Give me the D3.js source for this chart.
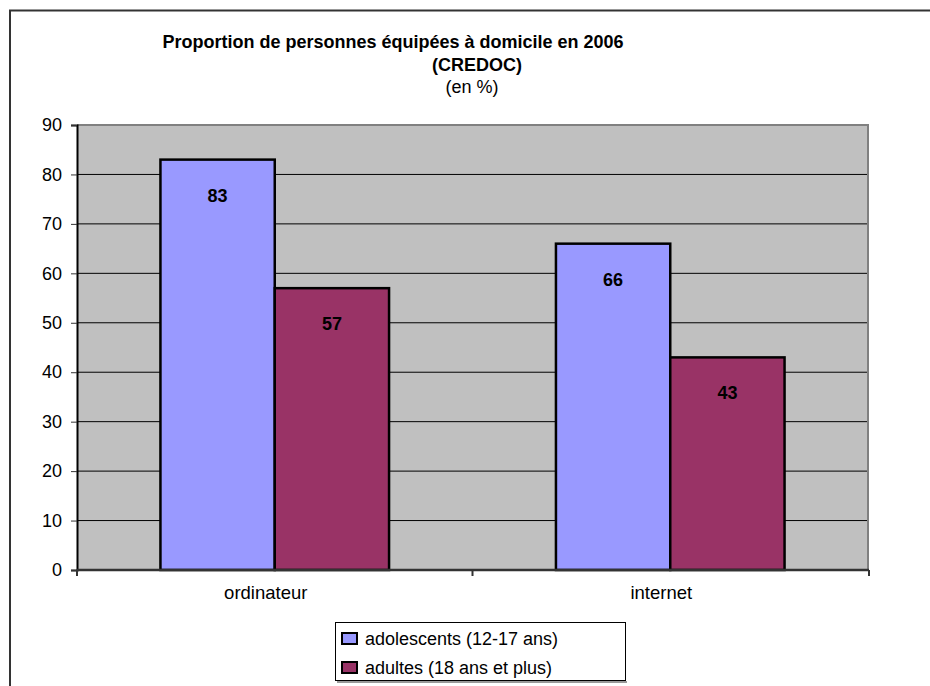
<!DOCTYPE html>
<html lang="fr">
<head>
<meta charset="UTF-8" />
<title>Proportion de personnes équipées</title>
<script src="https://d3js.org/d3.v7.min.js"></script>
<style>
  body { margin: 0; background: #fff; }
  text { font-family: "Liberation Sans", Arial, sans-serif; fill: #000; }
</style>
</head>
<body>
<svg width="930" height="686"></svg>
<script>
const categories = ["ordinateur", "internet"];
const series = ["adolescents (12-17 ans)", "adultes (18 ans et plus)"];
const values = [
  [83, 66],   // adolescents
  [57, 43]    // adultes
];
const colors = ["#9999ff", "#993366"];
const yTicks = [0, 10, 20, 30, 40, 50, 60, 70, 80, 90];

const svg = d3.select("svg");
const font = "'Liberation Sans', Arial, sans-serif";

// outer frame (only left and top visible)
svg.append("path")
  .attr("d", "M10,686 V10.5 H930")
  .attr("fill", "none")
  .attr("stroke", "#333")
  .attr("stroke-width", 2);

// title
svg.append("text").attr("x", 393).attr("y", 48).attr("text-anchor", "middle")
  .style("font-size", "18px").style("font-weight", "bold")
  .text("Proportion de personnes équipées à domicile en 2006");
svg.append("text").attr("x", 477).attr("y", 71).attr("text-anchor", "middle")
  .style("font-size", "18px").style("font-weight", "bold")
  .text("(CREDOC)");
svg.append("text").attr("x", 472).attr("y", 93).attr("text-anchor", "middle")
  .style("font-size", "18px")
  .text("(en %)");

const pLeft = 77, pRight = 868, pTop = 125, pBottom = 570;

const y = d3.scaleLinear().domain([0, 90]).range([pBottom, pTop]);
const x0 = d3.scaleBand().domain(categories).range([pLeft, pRight]);
const x1 = d3.scaleBand().domain(d3.range(series.length))
  .range([0, x0.bandwidth()]).paddingOuter(0.73);

// plot area
svg.append("rect")
  .attr("x", pLeft).attr("y", pTop)
  .attr("width", pRight - pLeft).attr("height", pBottom - pTop)
  .attr("fill", "#c0c0c0");

// gridlines
svg.append("g").selectAll("line")
  .data(yTicks.filter(d => d > 0 && d < 90))
  .join("line")
  .attr("x1", pLeft).attr("x2", pRight)
  .attr("y1", d => y(d)).attr("y2", d => y(d))
  .attr("stroke", "#000").attr("stroke-width", 1);

// plot border top/right
svg.append("path")
  .attr("d", `M${pLeft},${pTop} H${pRight} V${pBottom}`)
  .attr("fill", "none").attr("stroke", "#808080").attr("stroke-width", 2);

// bars
categories.forEach((c, ci) => {
  series.forEach((s, si) => {
    const v = values[si][ci];
    const bx = x0(c) + x1(si);
    svg.append("rect")
      .attr("x", bx).attr("y", y(v))
      .attr("width", x1.bandwidth()).attr("height", y(0) - y(v))
      .attr("fill", colors[si])
      .attr("stroke", "#000").attr("stroke-width", 2.5);
    svg.append("text")
      .attr("x", bx + x1.bandwidth() / 2)
      .attr("y", y(v) + 42)
      .attr("text-anchor", "middle")
      .style("font-size", "18px").style("font-weight", "bold")
      .text(v);
  });
});

// y axis
const yAxis = svg.append("g")
  .attr("transform", `translate(${pLeft},0)`)
  .call(d3.axisLeft(y).tickValues(yTicks).tickSize(6).tickPadding(9));
yAxis.select(".domain").attr("stroke", "#000").attr("stroke-width", 2);
yAxis.selectAll(".tick line").attr("stroke", "#333");
yAxis.selectAll(".tick text").style("font-size", "18px").style("font-family", font);

// x axis
const xAxis = svg.append("g")
  .attr("transform", `translate(0,${pBottom})`)
  .call(d3.axisBottom(x0).tickSize(0).tickPadding(16));
xAxis.select(".domain").attr("stroke", "#333").attr("stroke-width", 2.5)
  .attr("d", `M${pLeft},0H${pRight + 1}`);
xAxis.selectAll(".tick text").style("font-size", "18.5px").style("font-family", font)
  .attr("dx", -9);
svg.append("g").selectAll("line")
  .data([pLeft, (pLeft + pRight) / 2, pRight + 1])
  .join("line")
  .attr("x1", d => d).attr("x2", d => d)
  .attr("y1", pBottom).attr("y2", pBottom + 6)
  .attr("stroke", "#333").attr("stroke-width", 2);

// legend
const lg = svg.append("g");
lg.append("line").attr("x1", 337).attr("x2", 627).attr("y1", 682).attr("y2", 682)
  .attr("stroke", "#999").attr("stroke-width", 2);
lg.append("rect")
  .attr("x", 335.5).attr("y", 622.5).attr("width", 290).attr("height", 58)
  .attr("fill", "#fff").attr("stroke", "#000").attr("stroke-width", 1);
series.forEach((s, i) => {
  const ly = 638.5 + i * 29;
  lg.append("rect")
    .attr("x", 342).attr("y", ly - 5.5).attr("width", 15).attr("height", 11)
    .attr("fill", colors[i]).attr("stroke", "#000").attr("stroke-width", 2);
  lg.append("text")
    .attr("x", 365).attr("y", ly + 6.5)
    .style("font-size", "18px")
    .text(s);
});
</script>
</body>
</html>
